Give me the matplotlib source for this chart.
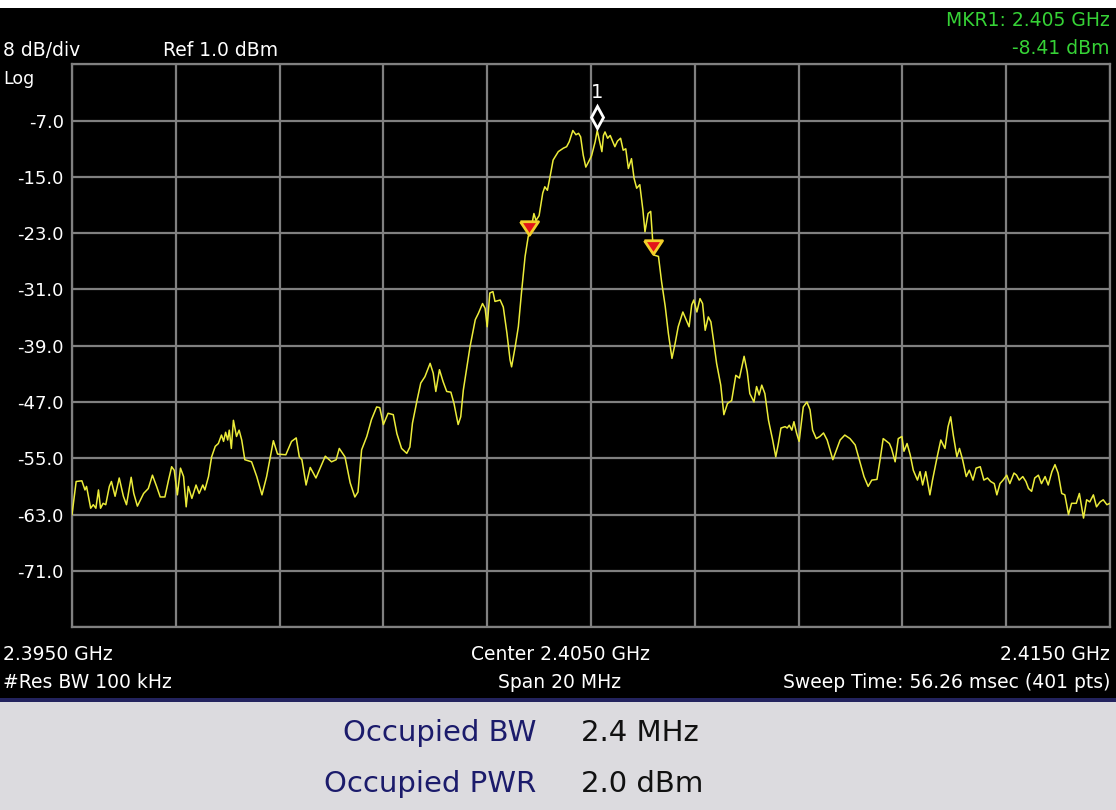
import matplotlib
matplotlib.use("Agg")
import matplotlib.pyplot as plt
from matplotlib.patches import Rectangle
from matplotlib.transforms import offset_copy

# ---------------- data ----------------
trace_freq_mhz = [
    2395.00, 2395.08, 2395.19, 2395.25, 2395.28, 2395.36, 2395.41, 2395.46, 2395.51, 2395.55,
    2395.60, 2395.65, 2395.72, 2395.76, 2395.83, 2395.91, 2395.99, 2396.05, 2396.14, 2396.19,
    2396.26, 2396.38, 2396.47, 2396.55, 2396.63, 2396.70, 2396.79, 2396.86, 2396.92, 2396.97,
    2397.03, 2397.09, 2397.15, 2397.20, 2397.24, 2397.31, 2397.39, 2397.45, 2397.52, 2397.56,
    2397.63, 2397.69, 2397.76, 2397.82, 2397.88, 2397.92, 2397.96, 2398.00, 2398.03, 2398.07,
    2398.11, 2398.17, 2398.22, 2398.27, 2398.33, 2398.46, 2398.56, 2398.66, 2398.75, 2398.88,
    2398.96, 2399.12, 2399.23, 2399.32, 2399.38, 2399.43, 2399.51, 2399.59, 2399.70, 2399.81,
    2399.88, 2400.00, 2400.09, 2400.15, 2400.26, 2400.36, 2400.45, 2400.51, 2400.58, 2400.68,
    2400.77, 2400.87, 2400.93, 2401.00, 2401.09, 2401.19, 2401.26, 2401.35, 2401.45, 2401.51,
    2401.56, 2401.65, 2401.72, 2401.80, 2401.90, 2401.96, 2402.01, 2402.08, 2402.15, 2402.22,
    2402.30, 2402.36, 2402.44, 2402.49, 2402.54, 2402.61, 2402.67, 2402.77, 2402.83, 2402.91,
    2402.96, 2403.00, 2403.05, 2403.11, 2403.15, 2403.25, 2403.31, 2403.38, 2403.44, 2403.47,
    2403.54, 2403.60, 2403.66, 2403.73, 2403.79, 2403.86, 2403.90, 2403.94, 2404.00, 2404.07,
    2404.11, 2404.16, 2404.21, 2404.27, 2404.37, 2404.47, 2404.53, 2404.58, 2404.65, 2404.71,
    2404.76, 2404.80, 2404.85, 2404.90, 2404.95, 2405.01, 2405.08, 2405.12, 2405.21, 2405.24,
    2405.27, 2405.32, 2405.37, 2405.42, 2405.46, 2405.51, 2405.57, 2405.62, 2405.67, 2405.72,
    2405.78, 2405.83, 2405.88, 2405.94, 2406.00, 2406.04, 2406.10, 2406.15, 2406.19, 2406.21,
    2406.30, 2406.36, 2406.43, 2406.49, 2406.56, 2406.62, 2406.68, 2406.77, 2406.81, 2406.89,
    2406.94, 2406.98, 2407.04, 2407.10, 2407.15, 2407.20, 2407.26, 2407.31, 2407.36, 2407.42,
    2407.50, 2407.56, 2407.63, 2407.71, 2407.79, 2407.86, 2407.95, 2408.01, 2408.06, 2408.14,
    2408.19, 2408.24, 2408.29, 2408.35, 2408.42, 2408.50, 2408.56, 2408.61, 2408.66, 2408.74,
    2408.78, 2408.82, 2408.87, 2408.91, 2408.96, 2409.01, 2409.09, 2409.16, 2409.22, 2409.27,
    2409.34, 2409.41, 2409.48, 2409.55, 2409.66, 2409.72, 2409.80, 2409.89, 2409.99, 2410.09,
    2410.18, 2410.26, 2410.34, 2410.41, 2410.51, 2410.57, 2410.63, 2410.70, 2410.75, 2410.79,
    2410.86, 2410.92, 2410.99, 2411.03, 2411.09, 2411.15, 2411.21, 2411.29, 2411.34, 2411.39,
    2411.45, 2411.53, 2411.58, 2411.67, 2411.74, 2411.82, 2411.88, 2411.93, 2411.98, 2412.05,
    2412.10, 2412.16, 2412.23, 2412.29, 2412.36, 2412.42, 2412.50, 2412.57, 2412.64, 2412.70,
    2412.77, 2412.82, 2412.88, 2412.94, 2413.01, 2413.07, 2413.15, 2413.20, 2413.25, 2413.32,
    2413.38, 2413.43, 2413.49, 2413.55, 2413.62, 2413.68, 2413.75, 2413.81, 2413.88, 2413.94,
    2414.00, 2414.07, 2414.13, 2414.20, 2414.26, 2414.35, 2414.41, 2414.49, 2414.55, 2414.61,
    2414.68, 2414.74, 2414.81, 2414.87, 2414.94, 2415.00,
]
trace_dbm = [
    -63.0, -58.3, -58.2, -59.5, -59.0, -62.1, -61.6, -62.1, -59.5, -62.1,
    -61.4, -61.6, -59.0, -58.3, -60.4, -57.8, -60.4, -61.6, -57.7, -60.0,
    -61.8, -60.0, -59.3, -57.4, -59.0, -60.5, -60.5, -58.1, -56.2, -56.7,
    -60.2, -56.4, -57.6, -61.9, -59.0, -60.7, -58.8, -60.0, -58.8, -59.5,
    -57.6, -54.8, -53.3, -52.9, -51.7, -52.6, -51.3, -52.4, -51.0, -53.6,
    -49.6, -51.9, -51.0, -52.4, -55.2, -55.5, -57.6, -60.2, -57.6, -52.5,
    -54.4, -54.5, -52.6, -52.1, -54.8, -55.2, -58.8, -56.3, -57.8, -55.9,
    -54.7, -55.5, -55.2, -53.6, -54.8, -58.5, -60.5, -59.8, -53.8, -51.9,
    -49.5, -47.7, -47.8, -50.2, -48.6, -48.8, -51.5, -53.6, -54.3, -53.4,
    -50.0, -46.7, -44.3, -43.4, -41.5, -42.9, -45.5, -42.4, -44.1, -45.5,
    -45.6, -47.2, -50.2, -49.1, -45.3, -42.0, -39.1, -35.3, -34.4, -33.0,
    -33.7, -36.3, -31.5, -31.3, -32.7, -32.5, -33.5, -37.2, -41.0, -42.0,
    -39.1, -36.3, -31.5, -26.3, -23.5, -21.8, -20.2, -21.2, -20.5, -17.3,
    -16.4, -16.9, -15.0, -12.6, -11.4, -10.9, -10.7, -10.0, -8.4, -9.0,
    -8.8, -9.3, -11.9, -13.6, -12.9, -12.0, -10.0, -8.4, -11.4, -9.1,
    -8.6, -9.5, -9.1, -10.0, -10.7, -9.9, -9.5, -11.2, -11.0, -13.8,
    -12.4, -15.2, -16.6, -16.1, -19.7, -22.8, -20.2, -19.9, -24.2, -26.1,
    -26.3, -29.9, -33.4, -37.2, -40.8, -38.7, -36.3, -34.2, -34.9, -36.3,
    -33.2, -32.5, -34.2, -32.3, -33.0, -36.8, -34.9, -35.6, -38.2, -41.5,
    -44.6, -48.8, -47.2, -46.8, -43.2, -43.6, -40.5, -42.7, -45.8, -47.0,
    -44.8, -46.0, -44.6, -45.8, -49.6, -52.4, -54.8, -52.9, -50.7, -50.5,
    -50.7, -50.3, -51.0, -49.8, -51.4, -52.6, -47.7, -47.0, -48.1, -51.0,
    -52.2, -51.9, -51.4, -52.4, -55.2, -54.0, -52.4, -51.7, -52.2, -53.1,
    -55.5, -57.6, -59.0, -58.1, -58.0, -55.2, -52.2, -52.6, -52.9, -53.6,
    -55.5, -52.2, -51.9, -54.0, -52.9, -54.5, -56.7, -58.1, -56.9, -58.8,
    -56.9, -60.2, -58.1, -54.8, -52.4, -53.6, -50.5, -49.1, -51.7, -54.8,
    -53.6, -55.2, -57.6, -56.7, -58.1, -56.4, -56.2, -58.1, -57.8, -58.3,
    -58.6, -60.2, -58.6, -58.1, -57.4, -58.6, -57.1, -57.4, -58.1, -57.6,
    -58.3, -59.3, -59.7, -57.8, -57.4, -58.6, -57.6, -58.8, -56.9, -55.9,
    -57.1, -60.0, -60.2, -63.0, -61.4, -61.4, -60.0, -63.5, -60.9, -61.2,
    -60.2, -61.9, -61.2, -60.9, -61.6, -61.4,
]

ref_level_dbm = 1.0
db_per_div = 8.0
n_div = 10
start_mhz = 2395.0
stop_mhz = 2415.0

y_tick_values = [-7.0, -15.0, -23.0, -31.0, -39.0, -47.0, -55.0, -63.0, -71.0]

mkr1_freq_mhz = 2405.12
mkr1_dbm = -8.41
obw_marker_freq_mhz = [2403.80, 2406.19]
obw_marker_dbm = [-22.3, -25.0]

header_left = "8 dB/div"
header_ref = "Ref 1.0 dBm"
header_log = "Log"
mkr_text_1 = "MKR1: 2.405 GHz"
mkr_text_2 = "-8.41 dBm"
footer_left_1 = "2.3950 GHz"
footer_center_1 = "Center 2.4050 GHz"
footer_right_1 = "2.4150 GHz"
footer_left_2 = "#Res BW 100 kHz"
footer_center_2 = "Span 20 MHz"
footer_right_2 = "Sweep Time: 56.26 msec (401 pts)"
result_labels = ["Occupied BW", "Occupied PWR"]
result_values = ["2.4 MHz", "2.0 dBm"]

# ---------------- figure ----------------
W, H = 1116, 810
plt.rcParams['font.family'] = ['DejaVu Sans']
fig = plt.figure(figsize=(W / 100, H / 100), dpi=100, facecolor='white')


def fx(x):
    return x / W


def fy(y):
    return 1 - y / H


# backgrounds
fig.patches.append(Rectangle((0, fy(698)), 1, fy(8) - fy(698), transform=fig.transFigure,
                             facecolor='black', edgecolor='none', zorder=-10))
fig.patches.append(Rectangle((0, fy(702)), 1, fy(698) - fy(702), transform=fig.transFigure,
                             facecolor='#23235e', edgecolor='none', zorder=-10))
fig.patches.append(Rectangle((0, 0), 1, fy(702), transform=fig.transFigure,
                             facecolor='#dcdbdf', edgecolor='none', zorder=-10))

ax_left, ax_right, ax_top, ax_bottom = 72, 1110, 64.4, 627.1
ax = fig.add_axes([fx(ax_left), fy(ax_bottom), fx(ax_right) - fx(ax_left), fy(ax_top) - fy(ax_bottom)])
ax.set_facecolor('black')

bottom_level = ref_level_dbm - db_per_div * n_div
ax.set_xlim(start_mhz, stop_mhz)
ax.set_ylim(bottom_level, ref_level_dbm)

grid_color = '#808080'
ax.set_xticks([start_mhz + i * (stop_mhz - start_mhz) / n_div for i in range(n_div + 1)])
ax.set_xticklabels([])
yt = [bottom_level + i * db_per_div for i in range(n_div + 1)]
ax.set_yticks(yt)
ax.set_yticklabels([f"{v:.1f}" if v in y_tick_values else "" for v in yt])
ax.tick_params(length=0, colors='white', labelsize=13, pad=6)
ax.grid(True, color=grid_color, linewidth=1.6)
ax.set_axisbelow(True)
for s in ax.spines.values():
    s.set_color(grid_color)
    s.set_linewidth(1.6)

# trace
ax.plot(trace_freq_mhz, trace_dbm, color='#ecec3a', linewidth=1.1, zorder=3)

# marker 1 (diamond above the peak)
diamond_tr = offset_copy(ax.transData, fig=fig, x=0, y=14, units='dots')
ax.plot([mkr1_freq_mhz], [mkr1_dbm], marker='d', markersize=11, markerfacecolor='black',
        markeredgecolor='white', markeredgewidth=2, linestyle='none', transform=diamond_tr,
        zorder=5, clip_on=False)
label_tr = offset_copy(ax.transData, fig=fig, x=0, y=38, units='dots')
ax.text(mkr1_freq_mhz, mkr1_dbm, "1", color='white', fontsize=14, ha='center', va='center',
        transform=label_tr, zorder=5)

# occupied bandwidth markers
tri = [(-1, 0.75), (1, 0.75), (0, -0.75), (-1, 0.75)]
ax.plot(obw_marker_freq_mhz, obw_marker_dbm, marker=tri, markersize=13, markerfacecolor='#e3141a',
        markeredgecolor='#f2cf2a', markeredgewidth=2, linestyle='none', zorder=5)

# header / footer texts
white = 'white'
green = '#36d236'
fs = 13.5
fig.text(fx(3), fy(51), header_left, color=white, fontsize=fs, ha='left', va='center')
fig.text(fx(163), fy(51), header_ref, color=white, fontsize=fs, ha='left', va='center')
fig.text(fx(3), fy(79), header_log, color=white, fontsize=12.5, ha='left', va='center')
fig.text(fx(1110), fy(20), mkr_text_1, color=green, fontsize=fs, ha='right', va='center')
fig.text(fx(1110), fy(48), mkr_text_2, color=green, fontsize=fs, ha='right', va='center')

fig.text(fx(3), fy(654), footer_left_1, color=white, fontsize=fs, ha='left', va='center')
fig.text(fx(560), fy(654), footer_center_1, color=white, fontsize=fs, ha='center', va='center')
fig.text(fx(1110), fy(654), footer_right_1, color=white, fontsize=fs, ha='right', va='center')
fig.text(fx(3), fy(682), footer_left_2, color=white, fontsize=fs, ha='left', va='center')
fig.text(fx(560), fy(682), footer_center_2, color=white, fontsize=fs, ha='center', va='center')
fig.text(fx(1110), fy(682), footer_right_2, color=white, fontsize=fs, ha='right', va='center')

# result panel
row_y = [733, 784]
for lab, val, yy in zip(result_labels, result_values, row_y):
    fig.text(fx(536), fy(yy), lab, color='#1b1b6b', fontsize=21, ha='right', va='center')
    fig.text(fx(581), fy(yy), val, color='#111111', fontsize=21, ha='left', va='center')

fig.savefig("out.png", dpi=100, facecolor=fig.get_facecolor())
